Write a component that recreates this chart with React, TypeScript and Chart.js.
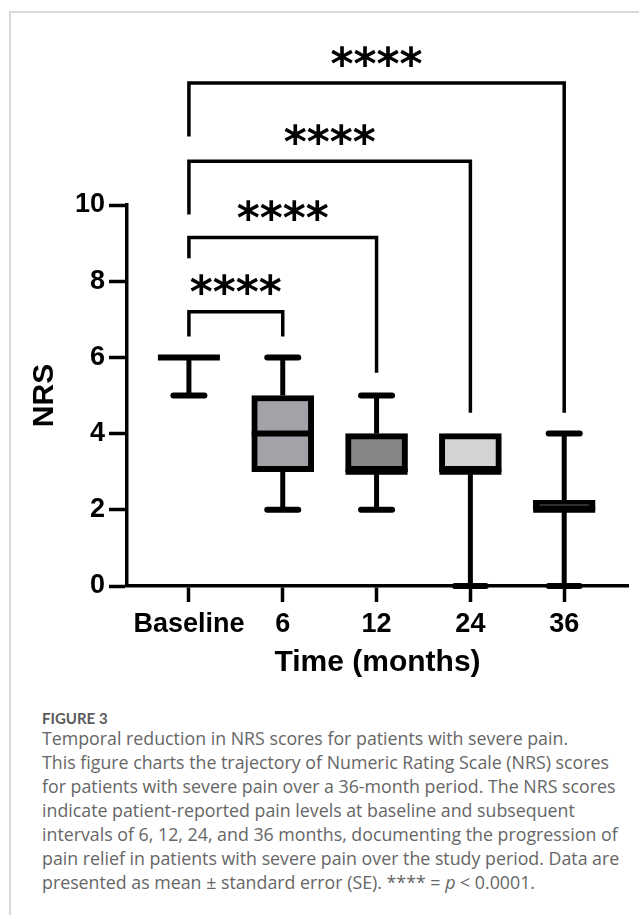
import React, { useEffect, useRef } from 'react';
import { Chart, registerables } from 'chart.js';

Chart.register(...registerables);

// ---- data ----
const categories = ['Baseline', '6', '12', '24', '36'];
const whiskerMin = [5, 2, 2, 0, 0];
const q1 = [6, 3, 3, 3, 2];
const median = [6, 4, 3, 3, 2];
const q3 = [6, 5, 4, 4, 2.25];
const whiskerMax = [6, 6, 5, 4, 4];
const boxFills = ['#ffffff', '#a3a2a8', '#858585', '#d4d4d4', '#000000'];
const yTicks = [0, 2, 4, 6, 8, 10];

// significance brackets (Baseline vs each follow-up)
const bracketFrom = [0, 0, 0, 0];
const bracketTo = [1, 2, 3, 4];
const bracketTop = [7.2, 9.15, 11.15, 13.2];
const bracketLeftEnd = [6.55, 8.6, 9.75, 11.8];
const bracketRightEnd = [6.55, 5.6, 4.55, 4.55];
const bracketLabels = ['****', '****', '****', '****'];

const captionLines = [
  'Temporal reduction in NRS scores for patients with severe pain.',
  'This figure charts the trajectory of Numeric Rating Scale (NRS) scores',
  'for patients with severe pain over a 36-month period. The NRS scores',
  'indicate patient-reported pain levels at baseline and subsequent',
  'intervals of 6, 12, 24, and 36 months, documenting the progression of',
  'pain relief in patients with severe pain over the study period. Data are',
];

const AXIS_FONT = "'Liberation Sans', Arial, sans-serif";

const boxPlugin = {
  id: 'boxExtras',
  afterDatasetsDraw(chart: any) {
    const { ctx, scales } = chart;
    const x = scales.x;
    const y = scales.y;
    const meta = chart.getDatasetMeta(0);
    ctx.save();
    ctx.strokeStyle = '#000';
    categories.forEach((_, i) => {
      const cx = x.getPixelForValue(i);
      const el = meta.data[i];
      const half = el.getProps(['width'], true).width / 2;
      const capHalf = half * 0.5;
      // whiskers
      ctx.lineWidth = 5;
      ctx.lineCap = 'butt';
      if (whiskerMax[i] > q3[i]) {
        ctx.beginPath();
        ctx.moveTo(cx, y.getPixelForValue(q3[i]));
        ctx.lineTo(cx, y.getPixelForValue(whiskerMax[i]));
        ctx.stroke();
      }
      if (whiskerMin[i] < q1[i]) {
        ctx.beginPath();
        ctx.moveTo(cx, y.getPixelForValue(q1[i]));
        ctx.lineTo(cx, y.getPixelForValue(whiskerMin[i]));
        ctx.stroke();
      }
      // caps
      ctx.lineWidth = 6;
      ctx.lineCap = 'round';
      if (whiskerMax[i] > q3[i]) {
        const yy = y.getPixelForValue(whiskerMax[i]);
        ctx.beginPath();
        ctx.moveTo(cx - capHalf, yy);
        ctx.lineTo(cx + capHalf, yy);
        ctx.stroke();
      }
      if (whiskerMin[i] < q1[i]) {
        const yy = y.getPixelForValue(whiskerMin[i]);
        ctx.beginPath();
        ctx.moveTo(cx - capHalf, yy);
        ctx.lineTo(cx + capHalf, yy);
        ctx.stroke();
      }
      // median
      ctx.lineWidth = 6;
      ctx.lineCap = 'butt';
      const my = y.getPixelForValue(median[i]);
      ctx.beginPath();
      ctx.moveTo(cx - half, my);
      ctx.lineTo(cx + half, my);
      ctx.stroke();
    });
    ctx.restore();
  },
  afterDraw(chart: any) {
    const { ctx, scales } = chart;
    const x = scales.x;
    const y = scales.y;
    ctx.save();
    ctx.strokeStyle = '#000';
    ctx.fillStyle = '#000';
    ctx.lineWidth = 3.5;
    ctx.lineJoin = 'miter';
    ctx.lineCap = 'butt';
    ctx.font = "bold 44px 'DejaVu Sans', sans-serif";
    ctx.textAlign = 'center';
    ctx.textBaseline = 'middle';
    bracketFrom.forEach((from, k) => {
      const x0 = x.getPixelForValue(from);
      const x1 = x.getPixelForValue(bracketTo[k]);
      const yt = y.getPixelForValue(bracketTop[k]);
      ctx.beginPath();
      ctx.moveTo(x0, y.getPixelForValue(bracketLeftEnd[k]));
      ctx.lineTo(x0, yt);
      ctx.lineTo(x1, yt);
      ctx.lineTo(x1, y.getPixelForValue(bracketRightEnd[k]));
      ctx.stroke();
      ctx.fillText(bracketLabels[k], (x0 + x1) / 2, yt - 16);
    });
    ctx.restore();
  },
};

function BoxChart() {
  const ref = useRef<HTMLCanvasElement | null>(null);
  useEffect(() => {
    if (!ref.current) return;
    const chart = new Chart(ref.current, {
      type: 'bar',
      data: {
        datasets: [
          {
            data: categories.map((_, i) => ({ x: i, y: [q1[i], q3[i]] })) as any,
            backgroundColor: boxFills,
            borderColor: '#000',
            borderWidth: 6,
            borderSkipped: false,
            barThickness: 62,
          },
        ],
      },
      options: {
        animation: false,
        responsive: false,
        layout: { padding: { top: 205, right: 11, left: 0, bottom: 0 } },
        plugins: { legend: { display: false }, tooltip: { enabled: false } },
        scales: {
          x: {
            type: 'linear',
            offset: false,
            min: -0.66,
            max: 4.68,
            afterBuildTicks: (s: any) => {
              s.ticks = categories.map((_, i) => ({ value: i }));
            },
            afterFit: (s: any) => {
              s.height = 114;
            },
            ticks: {
              callback: (v: any) => categories[v],
              color: '#000',
              font: { family: AXIS_FONT, weight: 'bold', size: 27 },
              padding: 6,
              maxRotation: 0,
              autoSkip: false,
            },
            grid: {
              offset: false,
              drawOnChartArea: false,
              drawTicks: true,
              tickLength: 16,
              tickWidth: 3.5,
              tickColor: '#000',
            },
            border: { display: true, color: '#000', width: 3.5 },
            title: {
              display: true,
              text: 'Time (months)',
              color: '#000',
              font: { family: AXIS_FONT, weight: 'bold', size: 30 },
              padding: { top: 0, bottom: 19 },
            },
          },
          y: {
            type: 'linear',
            min: 0,
            max: 10,
            afterBuildTicks: (s: any) => {
              s.ticks = yTicks.map((v) => ({ value: v }));
            },
            afterFit: (s: any) => {
              s.width = 127;
            },
            ticks: {
              color: '#000',
              font: { family: AXIS_FONT, weight: 'bold', size: 27 },
              padding: 4,
            },
            grid: {
              drawOnChartArea: false,
              drawTicks: true,
              tickLength: 18,
              tickWidth: 3.5,
              tickColor: '#000',
            },
            border: { display: true, color: '#000', width: 3.5 },
            title: {
              display: true,
              text: 'NRS',
              color: '#000',
              font: { family: AXIS_FONT, weight: 'bold', size: 30 },
              padding: { top: 27, bottom: 0 },
            },
          },
        },
      } as any,
      plugins: [boxPlugin],
    });
    return () => chart.destroy();
  }, []);
  return (
    <canvas
      ref={ref}
      width={639}
      height={700}
      style={{ position: 'absolute', left: 0, top: 0, width: 639, height: 700 }}
    />
  );
}

export default function App() {
  return (
    <div
      style={{
        position: 'absolute',
        left: 0,
        top: 0,
        width: 639,
        height: 915,
        background: '#fff',
        overflow: 'hidden',
      }}
    >
      <div
        style={{
          position: 'absolute',
          left: 9,
          top: 11,
          width: 700,
          height: 1000,
          borderLeft: '2px solid #d8d8d8',
          borderTop: '2px solid #d8d8d8',
        }}
      />
      <BoxChart />
      <div
        style={{
          position: 'absolute',
          left: 42,
          top: 708,
          fontFamily: "Lato, 'Open Sans', sans-serif",
          fontWeight: 700,
          fontSize: 15,
          lineHeight: '20px',
          color: '#5a5a5a',
        }}
      >
        FIGURE 3
      </div>
      <div
        style={{
          position: 'absolute',
          left: 42,
          top: 726,
          fontFamily: "'Open Sans', Lato, sans-serif",
          fontSize: 17.8,
          lineHeight: '24px',
          color: '#666',
          whiteSpace: 'nowrap',
        }}
      >
        {captionLines.map((l, i) => (
          <div key={i}>{l}</div>
        ))}
        <div>
          presented as mean ± standard error (SE). **** = <i>p</i> &lt; 0.0001.
        </div>
      </div>
    </div>
  );
}
